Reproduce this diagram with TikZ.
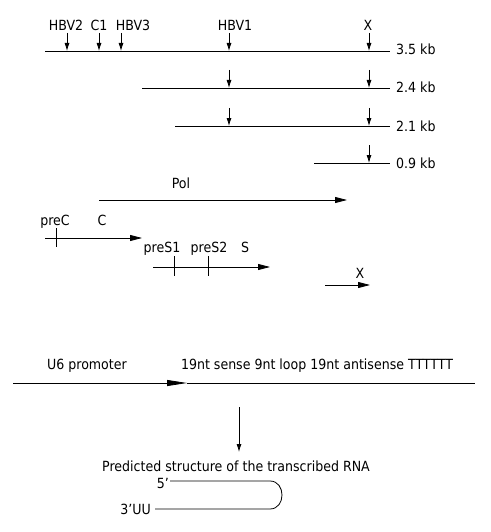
\documentclass[tikz,border=0pt]{standalone}
\usepackage{fontspec}
\setmainfont{DejaVu Sans Condensed}
\usetikzlibrary{arrows.meta}

\begin{document}
\begin{tikzpicture}[
    x=1pt, y=-1pt,
    font=\fontsize{14}{16}\selectfont,
    lbl/.style={inner sep=0pt, anchor=base},
    kb/.style={inner sep=0pt, anchor=base west},
    rna/.style={line width=0.8pt},
    site/.style={-{Latex[length=8pt,width=5pt]}, line width=0.8pt},
    orf/.style={-{Triangle[length=12pt,width=6pt]}, line width=0.8pt},
    tick/.style={line width=0.8pt}
]
\useasboundingbox (0,0) rectangle (490,532);

% HBV transcripts with their sizes
\coordinate (t35s) at (45,51);  \coordinate (t35e) at (390,51);
\coordinate (t24s) at (142,88); \coordinate (t24e) at (390,88);
\coordinate (t21s) at (175,126); \coordinate (t21e) at (390,126);
\coordinate (t09s) at (314,163); \coordinate (t09e) at (390,163);
\draw[rna] (t35s) -- (t35e);
\draw[rna] (t24s) -- (t24e);
\draw[rna] (t21s) -- (t21e);
\draw[rna] (t09s) -- (t09e);
\node[kb] (kb35) at (396,55) {3.5 kb};
\node[kb] (kb24) at (396,93) {2.4 kb};
\node[kb] (kb21) at (396,131) {2.1 kb};
\node[kb] (kb09) at (396,168) {0.9 kb};

% siRNA target sites
\node[lbl] (hbv2) at (66,31) {HBV2};
\node[lbl] (c1) at (99,31) {C1};
\node[lbl] (hbv3) at (133,31) {HBV3};
\node[lbl] (hbv1) at (235,31) {HBV1};
\node[lbl] (xsite) at (368,31) {X};
\foreach \n/\x/\y in {a/67/51, b/99/51, c/121/51, d/229/51, e/369/51,
                      f/229/88, g/369/88, h/229/126, i/369/126, j/369/163} {
  \coordinate (top\n) at (\x,\y-18);
  \coordinate (tip\n) at (\x,\y);
  \draw[site] (top\n) -- (tip\n);
}

% open reading frames
\coordinate (pols) at (99,200);  \coordinate (pole) at (347,200);
\node[lbl] (pol) at (181,188) {Pol};
\draw[orf] (pols) -- (pole);

\coordinate (cs) at (45,238);  \coordinate (ce) at (142,238);
\coordinate (prec1) at (56,228); \coordinate (prec2) at (56,247);
\node[lbl] (prec) at (55,225) {preC};
\node[lbl] (corf) at (102,225) {C};
\draw[orf] (cs) -- (ce);
\draw[tick] (prec1) -- (prec2);

\coordinate (ss) at (153,267);  \coordinate (se) at (270,267);
\coordinate (pres1a) at (174,256); \coordinate (pres1b) at (174,276);
\coordinate (pres2a) at (208,256); \coordinate (pres2b) at (208,276);
\node[lbl] (pres1) at (162,252) {preS1};
\node[lbl] (pres2) at (209,252) {preS2};
\node[lbl] (sorf) at (245,252) {S};
\draw[orf] (ss) -- (se);
\draw[tick] (pres1a) -- (pres1b);
\draw[tick] (pres2a) -- (pres2b);

\coordinate (xs) at (325,285);  \coordinate (xe) at (370,285);
\node[lbl] (xorf) at (360,278) {X};
\draw[orf] (xs) -- (xe);

% shRNA expression cassette
\coordinate (u6s) at (13,383);  \coordinate (u6m) at (187,383);
\coordinate (u6e) at (475,383);
\node[lbl] (u6) at (87,369) {U6 promoter};
\node[lbl] (insert) at (317,369) {19nt sense 9nt loop 19nt antisense TTTTTT};
\draw[-{Triangle[length=20pt,width=6pt]}, line width=0.8pt] (u6s) -- (u6m);
\draw[rna] (u6m) -- (u6e);

\coordinate (down1) at (239,407); \coordinate (down2) at (239,452);
\draw[site] (down1) -- (down2);

% predicted hairpin
\node[lbl] (pred) at (236,471) {Predicted structure of the transcribed RNA};
\node[inner sep=0pt, anchor=base east] (five) at (169,488) {5’};
\node[inner sep=0pt, anchor=base east] (three) at (151,514) {3’UU};
\coordinate (hp1) at (170,481); \coordinate (hp2) at (270,481);
\coordinate (hp3) at (270,509); \coordinate (hp4) at (155,509);
\draw[rna] (hp1) -- (hp2) .. controls (286,481) and (286,509) .. (hp3) -- (hp4);

\end{tikzpicture}
\end{document}
